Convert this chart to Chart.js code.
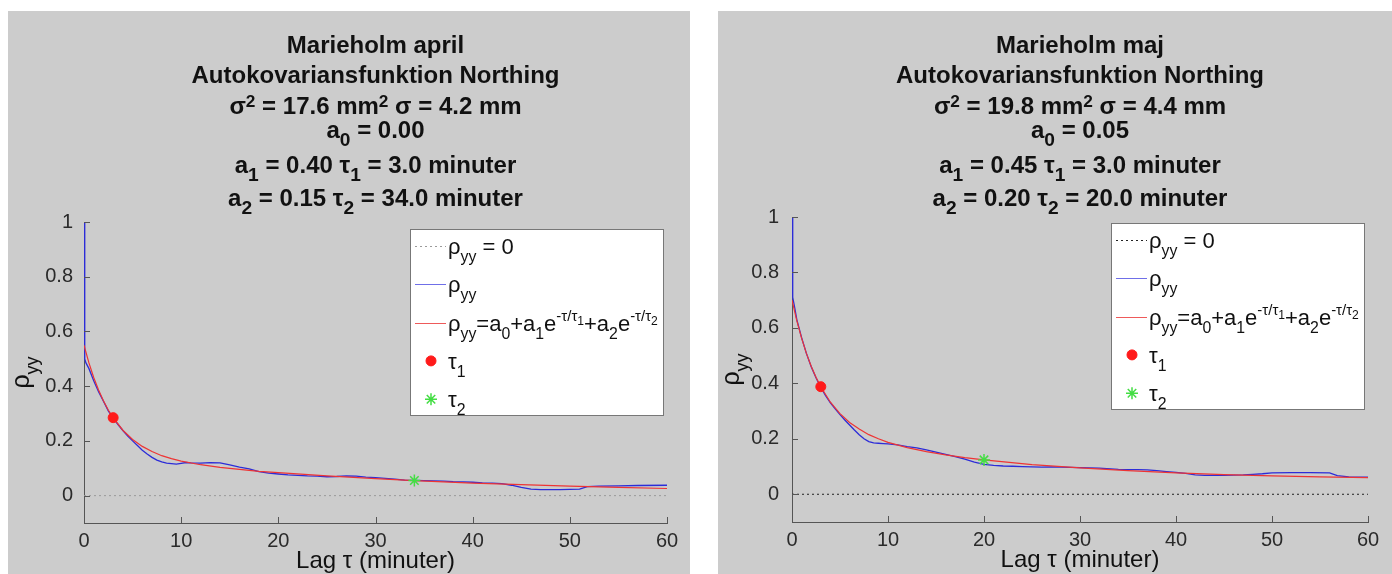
<!DOCTYPE html>
<html>
<head>
<meta charset="utf-8">
<script src="https://cdn.jsdelivr.net/npm/chart.js@4.4.1/dist/chart.umd.min.js"></script>
<style>
  body { margin: 0; background: #fff; width: 1392px; height: 574px; position: relative; overflow: hidden; }
  .panel { position: absolute; top: 11px; height: 563px; background: #cccccc; }
  canvas { display: block; }
</style>
</head>
<body>
<div class="panel" style="left:8px;width:682px"><canvas id="april"></canvas></div>
<div class="panel" style="left:718px;width:674px"><canvas id="maj"></canvas></div>
<script>
var FONT = "'Liberation Sans', Arial, Helvetica, sans-serif";

var xTicks = [0, 10, 20, 30, 40, 50, 60];
var yTicks = [0, 0.2, 0.4, 0.6, 0.8, 1];
var zeroLag = [0, 60];
var zeroVal = [0, 0];

// april - measured (blue)
var aprLag = [0, 0.05, 0.1, 0.2, 0.5, 1, 1.5, 2, 2.5, 3, 3.5, 4, 4.5, 5, 5.5, 6, 6.5, 7, 7.5, 8, 8.5, 9, 9.5, 10,
  10.5, 11, 12, 13, 14, 15, 16, 17, 18, 19, 20, 21, 22, 23, 24, 25, 26, 27, 28, 29, 30, 31, 32, 33, 34, 35, 36,
  37, 38, 39, 40, 41, 42, 43, 44, 45, 46, 47, 48, 49, 50, 51, 51.8, 53, 55, 57, 60];
var aprObs = [1.0, 0.60, 0.50, 0.485, 0.465, 0.42, 0.38, 0.345, 0.31, 0.283, 0.26, 0.238, 0.218, 0.2, 0.183, 0.166,
  0.152, 0.14, 0.13, 0.123, 0.119, 0.117, 0.115, 0.118, 0.121, 0.12, 0.119, 0.121, 0.12, 0.112, 0.104, 0.098,
  0.088, 0.082, 0.079, 0.076, 0.074, 0.072, 0.071, 0.069, 0.07, 0.072, 0.071, 0.068, 0.066, 0.063, 0.06, 0.057,
  0.056, 0.055, 0.054, 0.053, 0.051, 0.05, 0.049, 0.047, 0.046, 0.044, 0.038, 0.03, 0.024, 0.022, 0.022, 0.022,
  0.023, 0.024, 0.033, 0.035, 0.036, 0.037, 0.038];
// april - fitted (red)
var aprFitLag = [0, 0.5, 1, 1.5, 2, 2.5, 3, 4, 5, 6, 7, 8, 9, 10, 12, 14, 16, 18, 20, 25, 30, 34, 40, 45, 50, 55, 60];
var aprFit = [0.55, 0.486, 0.432, 0.386, 0.347, 0.313, 0.285, 0.239, 0.205, 0.18, 0.161, 0.146, 0.135, 0.126,
  0.113, 0.103, 0.096, 0.089, 0.084, 0.072, 0.062, 0.055, 0.046, 0.04, 0.035, 0.03, 0.026];
var aprTau = [3, 34];
var aprTauVal = [0.285, 0.055];

// maj - measured (blue)
var majLag = [0, 0.05, 0.1, 0.3, 0.5, 1, 1.5, 2, 2.5, 3, 3.5, 4, 4.5, 5, 5.5, 6, 6.5, 7, 7.5, 8, 8.5, 9, 9.5, 10,
  11, 12, 13, 14, 15, 16, 17, 18, 19, 20, 21, 22, 23, 24, 25, 26, 27, 28, 29, 30, 32, 34, 36, 37, 38, 39, 40,
  41, 42, 43, 44, 45, 46, 47, 48, 49, 50, 52, 54, 56, 56.8, 58, 60];
var majObs = [1.0, 0.75, 0.71, 0.67, 0.63, 0.565, 0.508, 0.46, 0.42, 0.385, 0.356, 0.33, 0.308, 0.287, 0.268,
  0.25, 0.232, 0.215, 0.2, 0.19, 0.185, 0.184, 0.183, 0.182, 0.178, 0.172, 0.167, 0.16, 0.152, 0.144, 0.136,
  0.127, 0.116, 0.108, 0.104, 0.102, 0.101, 0.1, 0.099, 0.098, 0.099, 0.098, 0.097, 0.096, 0.094, 0.09, 0.089,
  0.088, 0.085, 0.082, 0.079, 0.075, 0.07, 0.068, 0.068, 0.068, 0.069, 0.07, 0.072, 0.074, 0.077, 0.078, 0.078,
  0.077, 0.067, 0.063, 0.062];
// maj - fitted (red)
var majFitLag = [0, 0.5, 1, 1.5, 2, 2.5, 3, 4, 5, 6, 7, 8, 9, 10, 12, 14, 16, 18, 20, 25, 30, 35, 40, 45, 50, 55, 60];
var majFit = [0.70, 0.626, 0.563, 0.508, 0.462, 0.422, 0.388, 0.332, 0.291, 0.259, 0.235, 0.215, 0.2, 0.187,
  0.168, 0.154, 0.142, 0.132, 0.124, 0.107, 0.095, 0.085, 0.077, 0.071, 0.066, 0.063, 0.06];
var majTau = [3, 20];
var majTauVal = [0.388, 0.124];

// text, with '' normal, 'b' subscript, 'p' superscript, 'pb' subscript inside superscript
var aprTitle = [
  [['Marieholm april', '']],
  [['Autokovariansfunktion Northing', '']],
  [['σ', ''], ['2', 'p'], [' = 17.6 mm', ''], ['2', 'p'], [' σ = 4.2 mm', '']],
  [['a', ''], ['0', 'b'], [' = 0.00', '']],
  [['a', ''], ['1', 'b'], [' = 0.40 τ', ''], ['1', 'b'], [' = 3.0 minuter', '']],
  [['a', ''], ['2', 'b'], [' = 0.15 τ', ''], ['2', 'b'], [' = 34.0 minuter', '']]
];
var majTitle = [
  [['Marieholm maj', '']],
  [['Autokovariansfunktion Northing', '']],
  [['σ', ''], ['2', 'p'], [' = 19.8 mm', ''], ['2', 'p'], [' σ = 4.4 mm', '']],
  [['a', ''], ['0', 'b'], [' = 0.05', '']],
  [['a', ''], ['1', 'b'], [' = 0.45 τ', ''], ['1', 'b'], [' = 3.0 minuter', '']],
  [['a', ''], ['2', 'b'], [' = 0.20 τ', ''], ['2', 'b'], [' = 20.0 minuter', '']]
];
var legendLabels = [
  [['ρ', ''], ['yy', 'b'], [' = 0', '']],
  [['ρ', ''], ['yy', 'b']],
  [['ρ', ''], ['yy', 'b'], ['=a', ''], ['0', 'b'], ['+a', ''], ['1', 'b'], ['e', ''], ['-τ/τ', 'p'], ['1', 'pb'],
   ['+a', ''], ['2', 'b'], ['e', ''], ['-τ/τ', 'p'], ['2', 'pb']],
  [['τ', ''], ['1', 'b']],
  [['τ', ''], ['2', 'b']]
];
var xLabel = [['Lag τ (minuter)', '']];
var yLabel = [['ρ', ''], ['yy', 'b']];

// size ratio and baseline shift (in em) per part kind
var titleStyle = { '': [1, 0], b: [0.8, 0.33], p: [0.72, -0.3] };
var textStyle = { '': [1, 0], b: [0.72, 0.36], p: [0.68, -0.45], pb: [0.55, -0.25] };

function pts(xs, ys) {
  return xs.map(function (x, i) { return { x: x, y: ys[i] }; });
}

function richWidth(ctx, parts, size, weight, sty) {
  var w = 0;
  parts.forEach(function (p) {
    ctx.font = weight + ' ' + size * sty[p[1]][0] + 'px ' + FONT;
    w += ctx.measureText(p[0]).width;
  });
  return w;
}

function drawRich(ctx, parts, x, y, size, weight, center, sty) {
  var w = richWidth(ctx, parts, size, weight, sty);
  var cx = center ? x - w / 2 : x;
  ctx.textAlign = 'left';
  ctx.textBaseline = 'alphabetic';
  parts.forEach(function (p) {
    var st = sty[p[1]];
    ctx.font = weight + ' ' + size * st[0] + 'px ' + FONT;
    ctx.fillText(p[0], cx, y + size * st[1]);
    cx += ctx.measureText(p[0]).width;
  });
  return w;
}

var decor = {
  id: 'decor',
  afterDraw: function (chart) {
    var ctx = chart.ctx, a = chart.chartArea, c = chart.options.plugins.decor;
    var sx = chart.scales.x, sy = chart.scales.y;
    ctx.save();

    // inward tick marks
    ctx.strokeStyle = '#555';
    ctx.lineWidth = 1;
    ctx.beginPath();
    xTicks.forEach(function (v) {
      var px = Math.round(sx.getPixelForValue(v)) + 0.5;
      ctx.moveTo(px, a.bottom);
      ctx.lineTo(px, a.bottom - 6);
    });
    yTicks.forEach(function (v) {
      var py = Math.round(sy.getPixelForValue(v)) + 0.5;
      ctx.moveTo(a.left, py);
      ctx.lineTo(a.left + 6, py);
    });
    ctx.stroke();

    // title
    var cx = (a.left + a.right) / 2;
    ctx.fillStyle = '#111';
    c.title.forEach(function (parts, i) {
      drawRich(ctx, parts, cx, c.titleBase[i], 24, 'bold', true, titleStyle);
    });

    // axis labels
    drawRich(ctx, xLabel, cx, a.bottom + 45, 24, 'normal', true, textStyle);
    ctx.save();
    ctx.translate(21, (a.top + a.bottom) / 2);
    ctx.rotate(-Math.PI / 2);
    drawRich(ctx, yLabel, 0, 0, 25, 'normal', true, textStyle);
    ctx.restore();

    // legend
    var tw = 0;
    legendLabels.forEach(function (parts) {
      tw = Math.max(tw, richWidth(ctx, parts, 22, 'normal', textStyle));
    });
    var bw = Math.round(38 + tw + 5), bh = 186;
    var bx = Math.round(a.right - 4 - bw), by = Math.round(a.top + c.legendTop);
    ctx.fillStyle = '#fff';
    ctx.fillRect(bx, by, bw, bh);
    ctx.strokeStyle = '#777';
    ctx.strokeRect(bx + 0.5, by + 0.5, bw, bh);
    chart.data.datasets.forEach(function (ds, i) {
      var base = by + 25 + 38.3 * i;
      var my = base - 8;
      if (ds.showLine === false) {
        ctx.fillStyle = ds.backgroundColor;
        ctx.strokeStyle = ds.borderColor;
        ctx.lineWidth = ds.borderWidth;
        Chart.helpers.drawPoint(ctx, { pointStyle: ds.pointStyle, radius: ds.pointRadius, borderWidth: ds.borderWidth, rotation: 0 }, bx + 21, my);
      } else {
        ctx.strokeStyle = ds.legendColor || ds.borderColor;
        ctx.lineWidth = 1;
        ctx.setLineDash(ds.borderDash || []);
        ctx.beginPath();
        ctx.moveTo(bx + 5, Math.round(my) + 0.5);
        ctx.lineTo(bx + 36, Math.round(my) + 0.5);
        ctx.stroke();
        ctx.setLineDash([]);
      }
      ctx.fillStyle = '#111';
      drawRich(ctx, legendLabels[i], bx + 38, base, 22, 'normal', false, textStyle);
    });

    ctx.restore();
  }
};

function makeChart(id, w, h, area, cfg) {
  var canvas = document.getElementById(id);
  canvas.width = w;
  canvas.height = h;
  var tickFont = { family: FONT, size: 20 };
  return new Chart(canvas, {
    type: 'line',
    data: {
      datasets: [
        { data: pts(zeroLag, zeroVal), borderColor: cfg.zeroColor, borderDash: [2, 3], borderWidth: 1,
          pointRadius: 0, order: 4 },
        { data: pts(cfg.obsLag, cfg.obs), borderColor: '#2c2cd8', legendColor: '#6f6fe8', borderWidth: 1.3,
          pointRadius: 0, order: 3 },
        { data: pts(cfg.fitLag, cfg.fit), borderColor: '#ee3434', legendColor: '#ee5a5a', borderWidth: 1.2,
          pointRadius: 0, order: 2 },
        { data: [{ x: cfg.tau[0], y: cfg.tauVal[0] }], showLine: false, pointStyle: 'circle', pointRadius: 5,
          backgroundColor: '#ff1a1a', borderColor: '#ff1a1a', borderWidth: 1, order: 1 },
        { data: [{ x: cfg.tau[1], y: cfg.tauVal[1] }], showLine: false, pointStyle: 'star', pointRadius: 6,
          backgroundColor: '#44dd44', borderColor: '#44dd44', borderWidth: 1.5, order: 0 }
      ]
    },
    options: {
      responsive: false,
      animation: false,
      devicePixelRatio: 1,
      layout: { padding: { top: area.top, right: w - area.right, left: 0, bottom: 0 } },
      elements: { line: { tension: 0 } },
      plugins: {
        legend: { display: false },
        tooltip: { enabled: false },
        decor: { title: cfg.title, titleBase: [42, 72, 103, 127, 162, 195], legendTop: cfg.legendTop }
      },
      scales: {
        x: {
          type: 'linear', min: 0, max: 60,
          afterBuildTicks: function (s) { s.ticks = xTicks.map(function (v) { return { value: v }; }); },
          afterFit: function (s) { s.height = h - area.bottom; },
          grid: { display: false },
          border: { display: true, color: '#555' },
          ticks: { font: tickFont, color: '#2a2a2a', padding: -2, maxRotation: 0, autoSkip: false }
        },
        y: {
          type: 'linear', min: -0.1, max: 1,
          afterBuildTicks: function (s) { s.ticks = yTicks.map(function (v) { return { value: v }; }); },
          afterFit: function (s) { s.width = area.left; },
          grid: { display: false },
          border: { display: true, color: '#555' },
          ticks: { font: tickFont, color: '#2a2a2a', padding: cfg.yPad, autoSkip: false,
                   callback: function (v) { return String(v); } }
        }
      }
    },
    plugins: [decor]
  });
}

makeChart('april', 682, 563, { left: 76, top: 211, right: 659, bottom: 512 }, {
  obsLag: aprLag, obs: aprObs, fitLag: aprFitLag, fit: aprFit, tau: aprTau, tauVal: aprTauVal,
  title: aprTitle, zeroColor: '#9a9a9a', legendTop: 7, yPad: 3
});
makeChart('maj', 674, 563, { left: 74, top: 206, right: 650, bottom: 511 }, {
  obsLag: majLag, obs: majObs, fitLag: majFitLag, fit: majFit, tau: majTau, tauVal: majTauVal,
  title: majTitle, zeroColor: '#222', legendTop: 6, yPad: 5
});
</script>
</body>
</html>
